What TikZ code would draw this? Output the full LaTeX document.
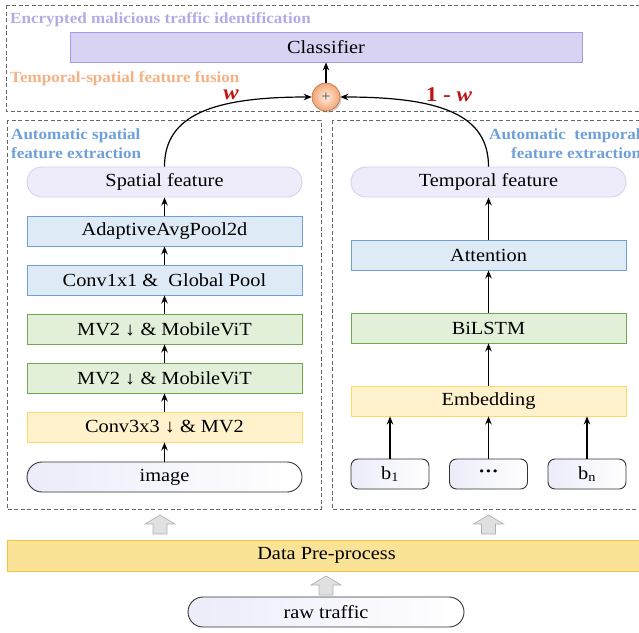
\documentclass[tikz,border=0pt]{standalone}
\usepackage{fontspec}
\setmainfont[FakeStretch=1.1]{Liberation Serif}
\usetikzlibrary{arrows.meta,shadows,calc}
\definecolor{labpurple}{RGB}{180,170,230}
\definecolor{laborange}{RGB}{244,177,131}
\definecolor{labblue}{RGB}{111,160,216}
\definecolor{wred}{RGB}{192,20,20}
\definecolor{clsfill}{RGB}{216,211,242}
\definecolor{clsline}{RGB}{165,155,225}
\definecolor{featfill}{RGB}{238,235,250}
\definecolor{featline}{RGB}{214,208,240}
\definecolor{bluefill}{RGB}{222,234,246}
\definecolor{blueline}{RGB}{110,160,210}
\definecolor{greenfill}{RGB}{226,240,217}
\definecolor{greenline}{RGB}{112,168,75}
\definecolor{yelfill}{RGB}{255,242,204}
\definecolor{yelline}{RGB}{255,217,102}
\definecolor{dpfill}{RGB}{250,226,150}
\definecolor{dpline}{RGB}{245,195,60}
\definecolor{infill}{RGB}{236,236,250}
\definecolor{plusfill}{RGB}{244,165,115}
\definecolor{plusline}{RGB}{190,110,70}
\begin{document}
\begin{tikzpicture}[x=1pt,y=-1pt,
  box/.style={draw, rectangle, minimum width=275pt, minimum height=30pt, inner sep=0pt,
    font=\fontsize{18.5}{20}\selectfont, line width=0.9pt},
  bluebox/.style={box, fill=bluefill, draw=blueline},
  greenbox/.style={box, fill=greenfill, draw=greenline},
  yelbox/.style={box, fill=yelfill, draw=yelline},
  featpill/.style={box, rounded corners=15pt, fill=featfill, draw=featline},
  inpill/.style={box, rounded corners=15pt, draw=black!80, left color=infill, right color=white},
  bbox/.style={box, minimum width=78pt, rounded corners=7pt, draw=black!80, left color=infill, right color=white},
  flow/.style={-{Stealth[length=8pt,width=6.5pt]}, line width=1.2pt},
  dashbox/.style={draw=black!60, dash pattern=on 4pt off 2.5pt, line width=0.8pt},
  lbl/.style={font=\fontsize{15.5}{17}\selectfont\bfseries, anchor=base west, inner sep=0pt},
  wlbl/.style={font=\fontsize{21}{22}\selectfont\bfseries, text=wred, inner sep=0pt},
  gray up/.pic={\draw[fill=black!12, draw=black!30, line width=0.7pt]
     (-7,19) -- (-7,9) -- (-15,9) -- (0,0) -- (15,9) -- (7,9) -- (7,19) -- cycle;}
]
\useasboundingbox (0,0) rectangle (639,632);

% dashed frames
\draw[dashbox] (6,5) rectangle (646,111);
\draw[dashbox] (7,120) rectangle (321,509);
\draw[dashbox] (332,120) rectangle (646,509);

% labels
\node[lbl, text=labpurple] (l1) at (10,23) {Encrypted malicious traffic identification};
\node[lbl, text=laborange] (l2) at (10,82) {Temporal-spatial feature fusion};
\node[lbl, text=labblue] (l3) at (11,139) {Automatic spatial};
\node[lbl, text=labblue] (l4) at (11,158) {feature extraction};
\node[lbl, text=labblue] (l5) at (489,139) {Automatic \ temporal};
\node[lbl, text=labblue] (l6) at (511,158) {feature extraction};

% classifier and fusion
\node[box, minimum width=512pt, fill=clsfill, draw=clsline] (cls) at (326,47) {Classifier};
\node[circle, minimum size=28pt, inner sep=0pt, draw=plusline, line width=0.6pt,
  inner color=white!80!plusfill, outer color=plusfill,
  drop shadow={shadow xshift=1.5pt, shadow yshift=-1.5pt, opacity=0.35},
  font=\fontsize{15}{15}\selectfont\color{black!70}] (plus) at (326,97) {+};
\node[wlbl] (w1) at (231,95) {\textit{w}};
\node[wlbl] (w2) at (449,95) {1 - \textit{w}};

% spatial column
\node[featpill] (sp) at (164.5,182) {Spatial feature};
\node[bluebox] (aap) at (164.5,231) {AdaptiveAvgPool2d};
\node[bluebox] (c11) at (164.5,280) {Conv1x1 \& \ Global Pool};
\node[greenbox] (mv1) at (164.5,329) {MV2 ↓ \& MobileViT};
\node[greenbox] (mv2) at (164.5,378) {MV2 ↓ \& MobileViT};
\node[yelbox] (c33) at (164.5,427) {Conv3x3 ↓ \& MV2};
\node[inpill] (img) at (164.5,477) {image};

% temporal column
\node[featpill] (tp) at (488.5,182) {Temporal feature};
\node[bluebox] (att) at (488.5,255) {Attention};
\node[greenbox] (bil) at (488.5,328) {BiLSTM};
\node[yelbox] (emb) at (488.5,401) {Embedding};
\node[bbox] (b1) at (390,474) {b\textsubscript{1}};
\node[bbox] (bd) at (488.5,474) {\textbf{···}};
\node[bbox] (bn) at (587,474) {b\textsubscript{n}};

% bottom
\node[box, minimum width=639pt, minimum height=31pt, fill=dpfill, draw=dpline] (dp) at (326.5,555.5) {Data Pre-process};
\node[inpill, minimum width=276pt] (raw) at (326,612) {raw traffic};

% flow arrows
\draw[flow] (img) -- (c33);
\draw[flow] (c33) -- (mv2);
\draw[flow] (mv2) -- (mv1);
\draw[flow] (mv1) -- (c11);
\draw[flow] (c11) -- (aap);
\draw[flow] (aap) -- (sp);
\draw[flow] (b1.north) -- (b1.north |- emb.south);
\draw[flow] (bd.north) -- (emb.south);
\draw[flow] (bn.north) -- (bn.north |- emb.south);
\draw[flow] (emb) -- (bil);
\draw[flow] (bil) -- (att);
\draw[flow] (att) -- (tp);
\draw[flow] (plus) -- (cls);
\draw[flow] (sp.north) .. controls +(0,-52) and +(-98,0) .. (plus.west);
\draw[flow] (tp.north) .. controls +(0,-52) and +(100,0) .. (plus.east);

% block arrows
\coordinate (ga1) at (160,515);
\coordinate (ga2) at (488.5,515);
\coordinate (ga3) at (326,576);
\pic at (ga1) {gray up};
\pic at (ga2) {gray up};
\pic at (ga3) {gray up};
\end{tikzpicture}
\end{document}
